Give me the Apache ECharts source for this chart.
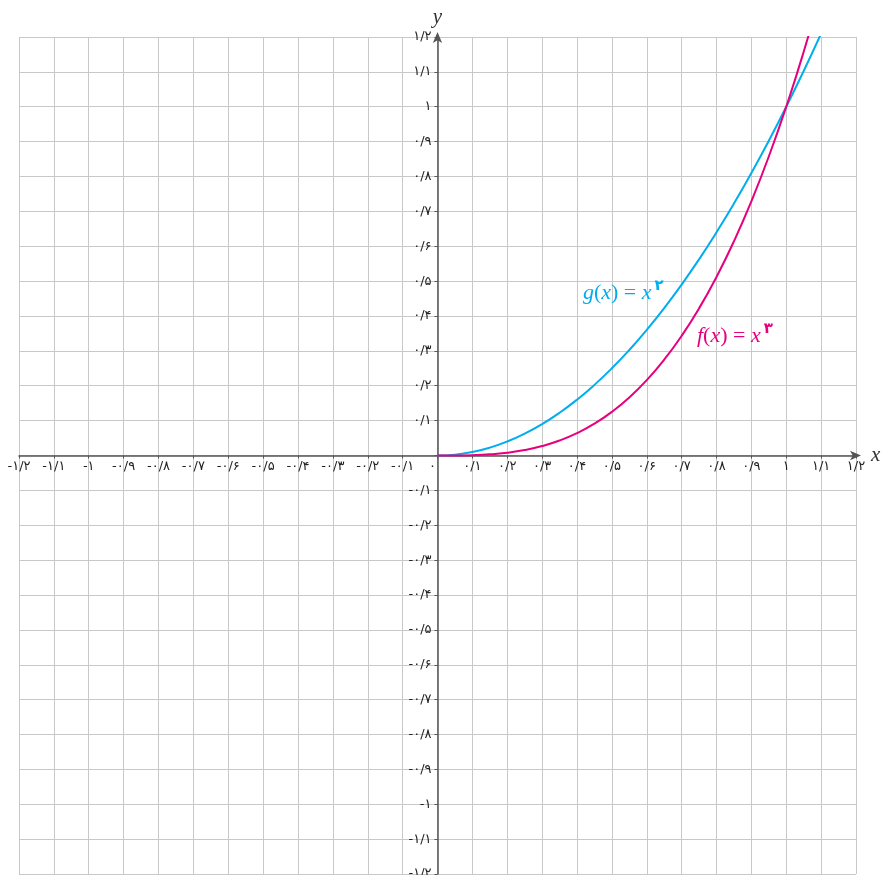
<!DOCTYPE html>
<html>
<head>
<meta charset="utf-8">
<script src="https://cdn.jsdelivr.net/npm/echarts@6/dist/echarts.min.js"></script>
<style>html,body{margin:0;padding:0;background:#fff}#c{width:882px;height:875px}</style>
</head>
<body>
<div id="c"></div>
<script>
// x positions sampled along the curves
const xs = [0, 0.05, 0.1, 0.15, 0.2, 0.25, 0.3, 0.35, 0.4, 0.45, 0.5, 0.55, 0.6, 0.65, 0.7, 0.75, 0.8, 0.85, 0.9, 0.95, 1, 1.05, 1.1];
// g(x) = x^2 (blue)
const gVals = [0, 0.0025, 0.01, 0.0225, 0.04, 0.0625, 0.09, 0.1225, 0.16, 0.2025, 0.25, 0.3025, 0.36, 0.4225, 0.49, 0.5625, 0.64, 0.7225, 0.81, 0.9025, 1, 1.1025, 1.21];
// f(x) = x^3 (magenta)
const fVals = [0, 0.000125, 0.001, 0.003375, 0.008, 0.015625, 0.027, 0.042875, 0.064, 0.091125, 0.125, 0.166375, 0.216, 0.274625, 0.343, 0.421875, 0.512, 0.614125, 0.729, 0.857375, 1, 1.157625, 1.331];
// tick labels from -1.2 to 1.2 step 0.1
const tickLabels = ['-۱/۲','-۱/۱','-۱','-۰/۹','-۰/۸','-۰/۷','-۰/۶','-۰/۵','-۰/۴','-۰/۳','-۰/۲','-۰/۱','۰','۰/۱','۰/۲','۰/۳','۰/۴','۰/۵','۰/۶','۰/۷','۰/۸','۰/۹','۱','۱/۱','۱/۲'];
// curve label anchors (data coordinates)
const gLabelAt = [0.417, 0.466];
const fLabelAt = [0.744, 0.343];

const lab = v => tickLabels[Math.round((v + 1.2) * 10)];
const mathRich = (color) => ({
  i: {fontFamily: 'Liberation Serif', fontStyle: 'italic', fontSize: 22, color: color},
  n: {fontFamily: 'Liberation Serif', fontSize: 22, color: color},
  s: {fontFamily: 'DejaVu Sans', fontSize: 15, fontWeight: 'bold', color: color, verticalAlign: 'top', padding: [0,0,13,3]}
});
const chart = echarts.init(document.getElementById('c'));
const W = 882, H = 875, L = 19, R = 26, T = 37, B = 1;
const halfW = (W - L - R) / 2, halfH = (H - T - B) / 2;
const FS = 13;
const axisCommon = {
  type: 'value', min: -1.2, max: 1.2, interval: 0.1,
  axisLine: {onZero: false, lineStyle: {color: '#555', width: 1.5}, symbol: ['none', 'arrow'], symbolSize: [7, 11], symbolOffset: [0, 5]},
  axisTick: {show: true, length: 3, lineStyle: {color: '#555'}},
  splitLine: {show: true, lineStyle: {color: '#c8c8c8', width: 1}},
  nameTextStyle: {fontFamily: 'Liberation Serif', fontStyle: 'italic', fontSize: 21, color: '#333'}
};
chart.setOption({
  animation: false,
  backgroundColor: '#fff',
  grid: {left: L, right: R, top: T, bottom: B, containLabel: false, outerBoundsMode: 'none'},
  xAxis: Object.assign({}, axisCommon, {
    position: 'bottom', offset: -halfH,
    name: 'x', nameLocation: 'end', nameGap: 9,
    axisLabel: {showMinLabel: true, showMaxLabel: true, margin: 5, fontFamily: 'DejaVu Sans', fontSize: FS, color: '#222',
      formatter: v => Math.abs(v) < 1e-9 ? '{z|۰}' : lab(v),
      rich: {z: {fontFamily: 'DejaVu Sans', fontSize: FS, color: '#222', padding: [0, 10, 0, 0]}}}
  }),
  yAxis: Object.assign({}, axisCommon, {
    position: 'left', offset: -halfW,
    name: 'y', nameLocation: 'end', nameGap: 9,
    axisLabel: {showMinLabel: true, showMaxLabel: true, margin: 6, fontFamily: 'DejaVu Sans', fontSize: FS, color: '#222',
      formatter: v => Math.abs(v) < 1e-9 ? '' : lab(v)}
  }),
  series: [
    {
      type: 'line', smooth: true, showSymbol: false, clip: true,
      data: xs.map((x, i) => [x, gVals[i]]),
      lineStyle: {color: '#00AEEF', width: 2}, itemStyle: {color: '#00AEEF'},
      markPoint: {symbolSize: 0, data: [{coord: gLabelAt}],
        label: {show: true, position: 'right', distance: 0, formatter: '{i|g}{n|(}{i|x}{n|) = }{i|x}{s|۲}', rich: mathRich('#00AEEF')}}
    },
    {
      type: 'line', smooth: true, showSymbol: false, clip: true,
      data: xs.map((x, i) => [x, fVals[i]]),
      lineStyle: {color: '#E6007E', width: 2}, itemStyle: {color: '#E6007E'},
      markPoint: {symbolSize: 0, data: [{coord: fLabelAt}],
        label: {show: true, position: 'right', distance: 0, formatter: '{i|f}{n|(}{i|x}{n|) = }{i|x}{s|۳}', rich: mathRich('#E6007E')}}
    }
  ]
});
</script>
</body>
</html>
